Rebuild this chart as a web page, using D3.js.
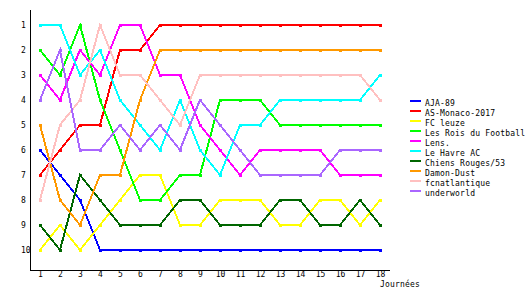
<!DOCTYPE html>
<html>
<head>
<meta charset="utf-8">
<script src="https://cdn.jsdelivr.net/npm/d3@7"></script>
<style>
  body { margin: 0; background: #fff; }
  svg { display: block; font-family: "DejaVu Sans Mono", monospace; font-size: 8px; }
</style>
</head>
<body>
<div id="chart"></div>
<script>
// Classement par journée
const journees = d3.range(1, 19);
const ranks = d3.range(1, 11);

const teams = ["AJA-89", "AS-Monaco-2017", "FC leuze", "Les Rois du Football", "Lens.",
  "Le Havre AC", "Chiens Rouges/53", "Damon-Dust", "fcnatlantique", "underworld"];

const teamColors = ["#0000ff", "#ff0000", "#ffff00", "#00ff00", "#ff00ff",
  "#00ffff", "#006600", "#ff9900", "#ffc0c0", "#aa66ff"];

const aja89      = [6, 7, 8, 10, 10, 10, 10, 10, 10, 10, 10, 10, 10, 10, 10, 10, 10, 10];
const asMonaco   = [7, 6, 5, 5, 2, 2, 1, 1, 1, 1, 1, 1, 1, 1, 1, 1, 1, 1];
const fcLeuze    = [10, 9, 10, 9, 8, 7, 7, 9, 9, 8, 8, 8, 9, 9, 8, 8, 9, 8];
const roisFoot   = [2, 3, 1, 4, 6, 8, 8, 7, 7, 4, 4, 4, 5, 5, 5, 5, 5, 5];
const lens       = [3, 4, 2, 3, 1, 1, 3, 3, 5, 6, 7, 6, 6, 6, 6, 7, 7, 7];
const leHavre    = [1, 1, 3, 2, 4, 5, 6, 4, 6, 7, 5, 5, 4, 4, 4, 4, 4, 3];
const chiens53   = [9, 10, 7, 8, 9, 9, 9, 8, 8, 9, 9, 9, 8, 8, 9, 9, 8, 9];
const damonDust  = [5, 8, 9, 7, 7, 4, 2, 2, 2, 2, 2, 2, 2, 2, 2, 2, 2, 2];
const fcnat      = [8, 5, 4, 1, 3, 3, 4, 5, 3, 3, 3, 3, 3, 3, 3, 3, 3, 4];
const underworld = [4, 2, 6, 6, 5, 6, 5, 6, 4, 5, 6, 7, 7, 7, 7, 6, 6, 6];

const series = [aja89, asMonaco, fcLeuze, roisFoot, lens, leHavre, chiens53, damonDust, fcnat, underworld];

const width = 530, height = 300;

const x = d3.scaleLinear().domain([1, 18]).range([40, 380]);
const y = d3.scaleLinear().domain([1, 10]).range([25, 250]);

const svg = d3.select("#chart").append("svg")
  .attr("width", width)
  .attr("height", height);

// lines
const line = d3.line()
  .x((d, i) => x(journees[i]))
  .y(d => y(d));

const teamG = svg.append("g")
  .selectAll("g")
  .data(series)
  .join("g");

teamG.append("path")
  .attr("fill", "none")
  .attr("stroke", (d, i) => teamColors[i])
  .attr("stroke-width", 2)
  .attr("shape-rendering", "crispEdges")
  .attr("d", d => line(d));

teamG.selectAll("rect")
  .data((d, i) => d.map((v, j) => ({v, j, c: teamColors[i]})))
  .join("rect")
  .attr("x", d => x(journees[d.j]) - 1.5)
  .attr("y", d => y(d.v) - 1.5)
  .attr("width", 3)
  .attr("height", 3)
  .attr("fill", d => d.c)
  .attr("shape-rendering", "crispEdges");

// axes
const xAxis = svg.append("g")
  .attr("transform", "translate(0,270)")
  .call(d3.axisBottom(x).tickValues(journees).tickSize(0).tickPadding(1).tickFormat(d3.format("d")));
xAxis.select(".domain").remove();
xAxis.selectAll("text").attr("font-size", 8).attr("font-family", "DejaVu Sans Mono").attr("fill", "#000");

const yAxis = svg.append("g")
  .attr("transform", "translate(30,0)")
  .call(d3.axisLeft(y).tickValues(ranks).tickSize(0).tickFormat(d3.format("d")));
yAxis.select(".domain").remove();
yAxis.selectAll("text")
  .attr("x", -9)
  .attr("text-anchor", "start")
  .attr("font-size", 8).attr("font-family", "DejaVu Sans Mono").attr("fill", "#000");

svg.append("line")
  .attr("x1", 30.5).attr("x2", 30.5)
  .attr("y1", 10).attr("y2", 270)
  .attr("stroke", "#000");
svg.append("line")
  .attr("x1", 30).attr("x2", 390)
  .attr("y1", 270.5).attr("y2", 270.5)
  .attr("stroke", "#000");

svg.append("text")
  .attr("x", 380)
  .attr("y", 287)
  .attr("letter-spacing", 0.2)
  .text("Journées");

// legend
const legend = svg.append("g")
  .selectAll("g")
  .data(teams)
  .join("g")
  .attr("transform", (d, i) => `translate(410,${100 + i * 10})`);

legend.append("rect")
  .attr("width", 11)
  .attr("height", 2)
  .attr("fill", (d, i) => teamColors[i]);

legend.append("text")
  .attr("x", 15)
  .attr("y", 6)
  .attr("letter-spacing", 0.2)
  .text(d => d);
</script>
</body>
</html>
